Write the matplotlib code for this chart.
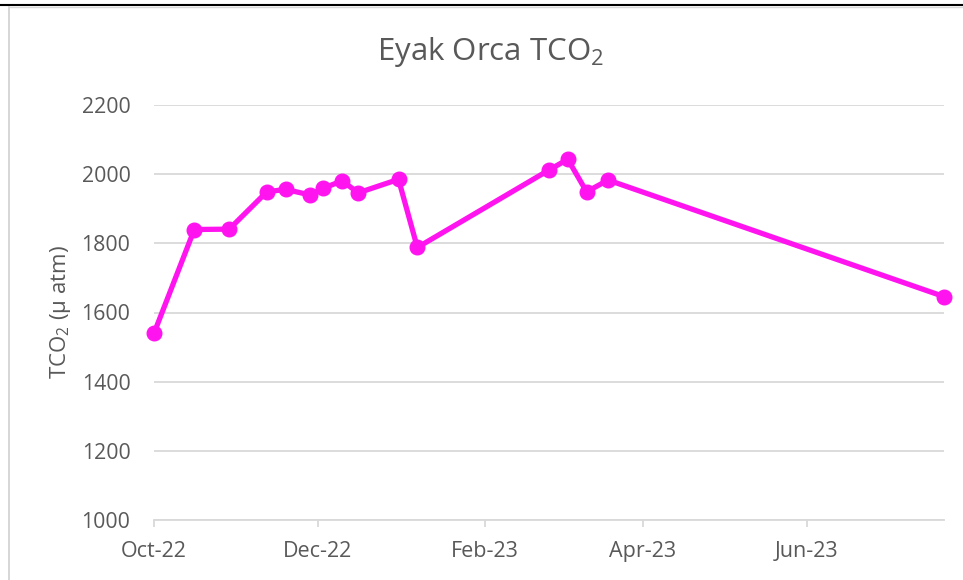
import matplotlib
matplotlib.use("Agg")
import matplotlib.pyplot as plt
import matplotlib.dates as mdates
from matplotlib.lines import Line2D
import pandas as pd

# Data
dates = ["2022-10-01", "2022-10-16", "2022-10-29", "2022-11-12", "2022-11-19",
         "2022-11-28", "2022-12-03", "2022-12-10", "2022-12-16", "2022-12-31",
         "2023-01-07", "2023-02-25", "2023-03-04", "2023-03-11", "2023-03-19",
         "2023-07-22"]
tco2 = [1540, 1840, 1841, 1949, 1956,
        1940, 1959, 1981, 1946, 1985,
        1788, 2012, 2043, 1949, 1983,
        1646]
y_ticks = [1000, 1200, 1400, 1600, 1800, 2000, 2200]
x_tick_dates = ["2022-10-01", "2022-12-01", "2023-02-01", "2023-04-01", "2023-06-01"]
title = "Eyak Orca TCO$_{\\mathregular{2}}$"
ylabel = "TCO$_{\\mathregular{2}}$ (µ atm)"

plt.rcParams['font.family'] = ['Open Sans', 'DejaVu Sans']
plt.rcParams['mathtext.fontset'] = 'custom'
plt.rcParams['mathtext.rm'] = 'Open Sans'

x = pd.to_datetime(dates)
xt = pd.to_datetime(x_tick_dates)

fig = plt.figure(figsize=(9.63, 5.8), dpi=100)
ax = fig.add_axes([154/963, 1 - 520/580, 790/963, 415/580])

text_color = '#595959'
grid_color = '#D9D9D9'
line_color = '#FF14F0'

ax.plot(x, tco2, color=line_color, lw=3.8, marker='o', markersize=10.5,
        solid_joinstyle='round', zorder=3, clip_on=False)

ax.set_xlim(x[0], x[-1])
ax.set_ylim(1000, 2200)
ax.set_yticks(y_ticks)
ax.set_xticks(xt)
ax.xaxis.set_major_formatter(mdates.DateFormatter('%b-%y'))

ax.grid(axis='y', color=grid_color, lw=1.3)
ax.set_axisbelow(True)
for s in ['top', 'right', 'left']:
    ax.spines[s].set_visible(False)
ax.spines['bottom'].set_color(grid_color)
ax.spines['bottom'].set_linewidth(1.3)

ax.tick_params(axis='y', length=0, pad=17, labelsize=15.3, labelcolor=text_color)
ax.tick_params(axis='x', length=5, width=1.3, color=grid_color, pad=10,
               labelsize=15.5, labelcolor=text_color)

ax.set_ylabel(ylabel, fontsize=16, color=text_color, labelpad=6)
fig.text(491/963, 1 - 52/580, title, fontsize=22.5, color=text_color,
         ha='center', va='center')

# chart frame artifacts
fig.add_artist(Line2D([0, 1], [1 - 4.5/580, 1 - 4.5/580], color='black', lw=1.5,
                      transform=fig.transFigure))
fig.add_artist(Line2D([8.5/963, 8.5/963], [0, 1 - 6.5/580], color='#D0D0D0', lw=1.2,
                      transform=fig.transFigure))
fig.add_artist(Line2D([8.5/963, 1], [1 - 6.5/580, 1 - 6.5/580], color='#D9D9D9', lw=1.0,
                      transform=fig.transFigure))

fig.savefig('out.png', dpi=100)
